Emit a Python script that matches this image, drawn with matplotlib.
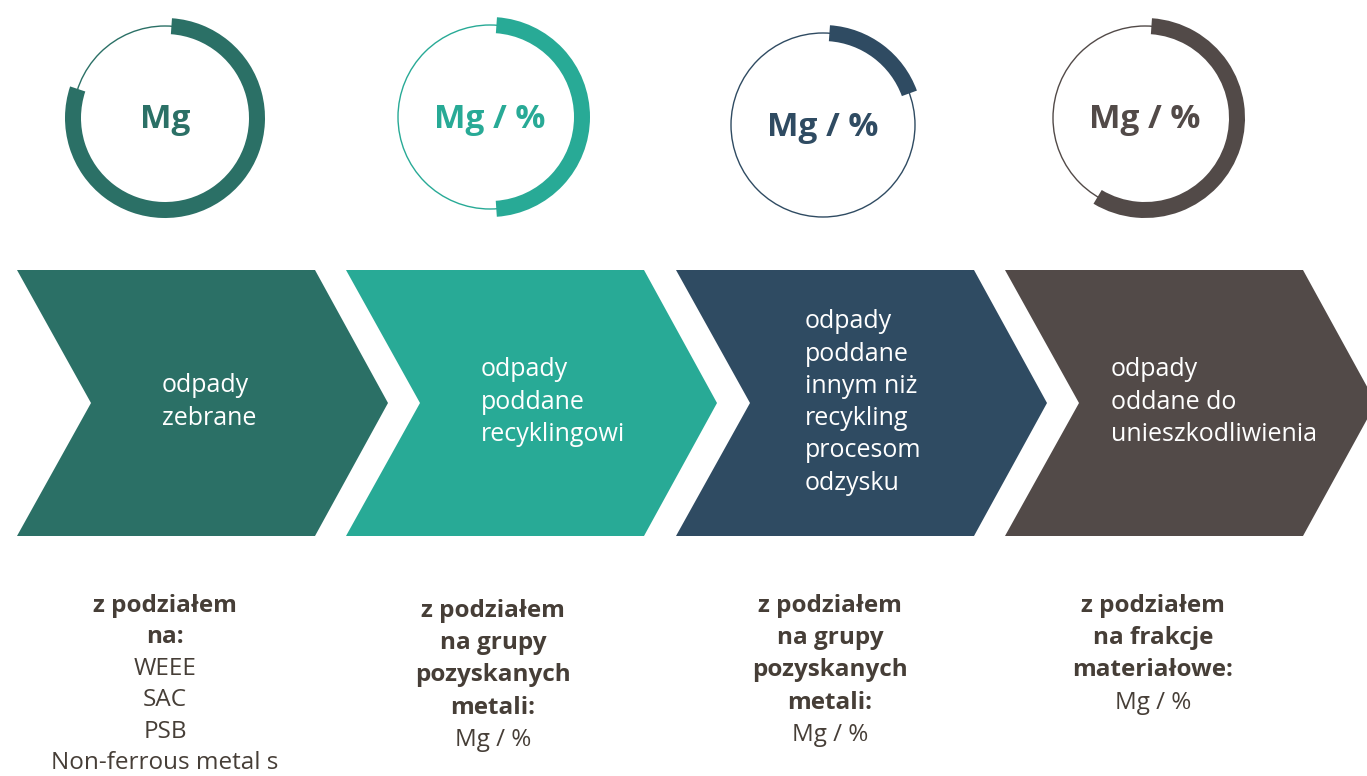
import matplotlib.pyplot as plt
from matplotlib.patches import Wedge, Circle, Polygon

# dane
ring_labels = ['Mg', 'Mg / %', 'Mg / %', 'Mg / %']
ring_start = [4, 4, 4, 4]          # stopnie od godziny 12, zgodnie z zegarem
ring_share = [0.79, 0.478, 0.183, 0.575]
colors = ['#2B7066', '#28AA96', '#2F4B62', '#524A48']
stage_text = [['odpady', 'zebrane'],
              ['odpady', 'poddane', 'recyklingowi'],
              ['odpady', 'poddane', 'innym niż', 'recykling', 'procesom', 'odzysku'],
              ['odpady', 'oddane do', 'unieszkodliwienia']]
bold_text = [['z podziałem', 'na:'],
             ['z podziałem', 'na grupy', 'pozyskanych', 'metali:'],
             ['z podziałem', 'na grupy', 'pozyskanych', 'metali:'],
             ['z podziałem', 'na frakcje', 'materiałowe:']]
plain_text = [['WEEE', 'SAC', 'PSB', 'Non-ferrous metal s'],
              ['Mg / %'], ['Mg / %'], ['Mg / %']]

W, H = 1367, 776
fig = plt.figure(figsize=(W / 100, H / 100), dpi=100)
ax = fig.add_axes([0, 0, 1, 1])
ax.set_xlim(0, W)
ax.set_ylim(H, 0)
ax.axis('off')

ring_cx = [165, 490, 823, 1145]
ring_cy = [118, 117, 125, 118]
chev_left = [17, 346, 676, 1005]
text_left = [162, 481, 805, 1111]
text_first = [386, 370, 322, 370]
col_cx = [165, 493, 830, 1153]
col_first = [606, 611, 606, 606]
col_step = [31.4, 32.2, 32.2, 32.2]
step = 32.2
fam = ['Open Sans', 'DejaVu Sans']
dark = '#463E37'

for i in range(4):
    cx, cy, c = ring_cx[i], ring_cy[i], colors[i]
    # cienki okrag
    ax.add_patch(Circle((cx, cy), 92, fill=False, lw=1.0, ec=c))
    # gruby luk
    phi1 = ring_start[i]
    phi2 = phi1 + 360 * ring_share[i]
    ax.add_patch(Wedge((cx, cy), 100, phi1 - 90, phi2 - 90, width=16, fc=c, ec='none'))
    ax.text(cx, cy + 2, ring_labels[i], ha='center', va='center', fontsize=24,
            fontweight='bold', color=c, family=fam)

    # strzalka
    x0 = chev_left[i]
    pts = [(x0, 270), (x0 + 298, 270), (x0 + 371, 403), (x0 + 298, 536),
           (x0, 536), (x0 + 74, 403)]
    ax.add_patch(Polygon(pts, closed=True, fc=c, ec='none'))
    for k, line in enumerate(stage_text[i]):
        ax.text(text_left[i], text_first[i] + k * step, line, ha='left', va='center',
                fontsize=18, color='white', family=fam)

    # opis pod spodem
    lines = bold_text[i] + plain_text[i]
    nb = len(bold_text[i])
    for k, line in enumerate(lines):
        ax.text(col_cx[i], col_first[i] + k * col_step[i], line, ha='center', va='center',
                fontsize=17.5, fontweight='bold' if k < nb else 'normal',
                color=dark, family=fam)

fig.savefig('out.png', dpi=100)
